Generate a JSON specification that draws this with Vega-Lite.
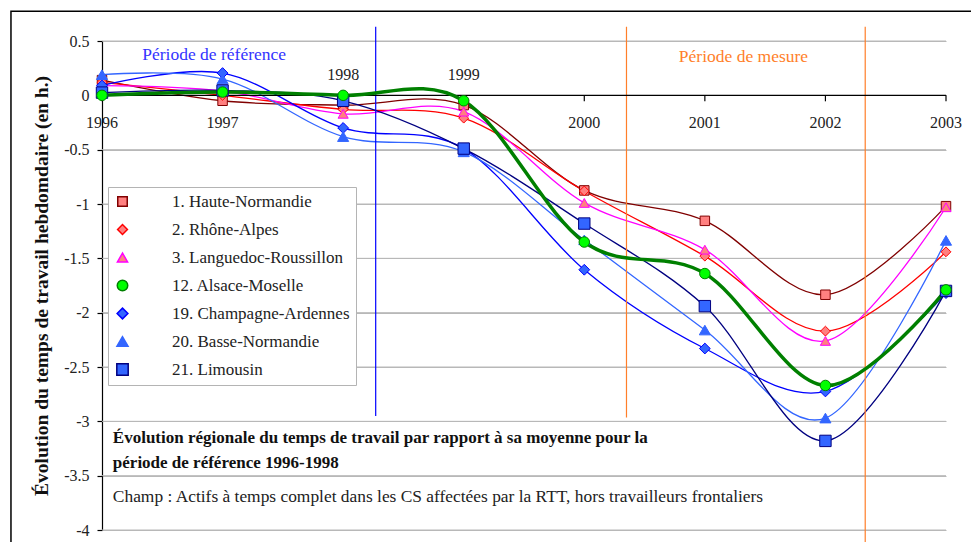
{
  "$schema": "https://vega.github.io/schema/vega-lite/v6.json",
  "width": 844,
  "height": 489,
  "autosize": "none",
  "padding": {"left": 102, "top": 41, "right": 25, "bottom": 12},
  "background": "white",
  "data": {"values": [{"one": 1}]},
  "config": {
    "view": {"stroke": null},
    "font": "Liberation Serif",
    "text": {"font": "Liberation Serif", "color": "#222222"},
    "axisY": {
      "domainColor": "black", "domainWidth": 1.2, "tickColor": "black", "tickSize": 5, "tickWidth": 1.2,
      "labelFont": "Liberation Serif", "labelFontSize": 16, "labelColor": "#222222", "labelPadding": 8,
      "grid": true, "gridColor": "#b8b8b8", "gridWidth": 1,
      "titleFont": "Liberation Serif", "titleFontSize": 19.5, "titleFontWeight": "bold", "titleColor": "#111111", "titlePadding": 12
    }
  },
  "datasets": {
    "series": [
      {"region": "1. Haute-Normandie", "year": 1996, "value": 0.14},
      {"region": "1. Haute-Normandie", "year": 1997, "value": -0.05},
      {"region": "1. Haute-Normandie", "year": 1998, "value": -0.09},
      {"region": "1. Haute-Normandie", "year": 1999, "value": -0.09},
      {"region": "1. Haute-Normandie", "year": 2000, "value": -0.875},
      {"region": "1. Haute-Normandie", "year": 2001, "value": -1.155},
      {"region": "1. Haute-Normandie", "year": 2002, "value": -1.835},
      {"region": "1. Haute-Normandie", "year": 2003, "value": -1.02},
      {"region": "2. Rhône-Alpes", "year": 1996, "value": 0.12},
      {"region": "2. Rhône-Alpes", "year": 1997, "value": 0.0},
      {"region": "2. Rhône-Alpes", "year": 1998, "value": -0.13},
      {"region": "2. Rhône-Alpes", "year": 1999, "value": -0.21},
      {"region": "2. Rhône-Alpes", "year": 2000, "value": -0.88},
      {"region": "2. Rhône-Alpes", "year": 2001, "value": -1.48},
      {"region": "2. Rhône-Alpes", "year": 2002, "value": -2.17},
      {"region": "2. Rhône-Alpes", "year": 2003, "value": -1.44},
      {"region": "3. Languedoc-Roussillon", "year": 1996, "value": 0.09},
      {"region": "3. Languedoc-Roussillon", "year": 1997, "value": 0.04},
      {"region": "3. Languedoc-Roussillon", "year": 1998, "value": -0.17},
      {"region": "3. Languedoc-Roussillon", "year": 1999, "value": -0.15},
      {"region": "3. Languedoc-Roussillon", "year": 2000, "value": -0.99},
      {"region": "3. Languedoc-Roussillon", "year": 2001, "value": -1.42},
      {"region": "3. Languedoc-Roussillon", "year": 2002, "value": -2.26},
      {"region": "3. Languedoc-Roussillon", "year": 2003, "value": -1.03},
      {"region": "19. Champagne-Ardennes", "year": 1996, "value": 0.09},
      {"region": "19. Champagne-Ardennes", "year": 1997, "value": 0.205},
      {"region": "19. Champagne-Ardennes", "year": 1998, "value": -0.3},
      {"region": "19. Champagne-Ardennes", "year": 1999, "value": -0.49},
      {"region": "19. Champagne-Ardennes", "year": 2000, "value": -1.605},
      {"region": "19. Champagne-Ardennes", "year": 2001, "value": -2.33},
      {"region": "19. Champagne-Ardennes", "year": 2002, "value": -2.725},
      {"region": "19. Champagne-Ardennes", "year": 2003, "value": -1.82},
      {"region": "20. Basse-Normandie", "year": 1996, "value": 0.19},
      {"region": "20. Basse-Normandie", "year": 1997, "value": 0.15},
      {"region": "20. Basse-Normandie", "year": 1998, "value": -0.38},
      {"region": "20. Basse-Normandie", "year": 1999, "value": -0.52},
      {"region": "20. Basse-Normandie", "year": 2000, "value": -1.33},
      {"region": "20. Basse-Normandie", "year": 2001, "value": -2.16},
      {"region": "20. Basse-Normandie", "year": 2002, "value": -2.97},
      {"region": "20. Basse-Normandie", "year": 2003, "value": -1.335},
      {"region": "21. Limousin", "year": 1996, "value": 0.025},
      {"region": "21. Limousin", "year": 1997, "value": 0.045},
      {"region": "21. Limousin", "year": 1998, "value": -0.05},
      {"region": "21. Limousin", "year": 1999, "value": -0.49},
      {"region": "21. Limousin", "year": 2000, "value": -1.18},
      {"region": "21. Limousin", "year": 2001, "value": -1.94},
      {"region": "21. Limousin", "year": 2002, "value": -3.18},
      {"region": "21. Limousin", "year": 2003, "value": -1.8},
      {"region": "12. Alsace-Moselle", "year": 1996, "value": 0.0},
      {"region": "12. Alsace-Moselle", "year": 1997, "value": 0.03},
      {"region": "12. Alsace-Moselle", "year": 1998, "value": 0.0},
      {"region": "12. Alsace-Moselle", "year": 1999, "value": -0.05},
      {"region": "12. Alsace-Moselle", "year": 2000, "value": -1.35},
      {"region": "12. Alsace-Moselle", "year": 2001, "value": -1.64},
      {"region": "12. Alsace-Moselle", "year": 2002, "value": -2.67},
      {"region": "12. Alsace-Moselle", "year": 2003, "value": -1.79}
    ],
    "years": [
      {"year": 1996, "pos": "below"}, {"year": 1997, "pos": "below"}, {"year": 1998, "pos": "above"},
      {"year": 1999, "pos": "above"}, {"year": 2000, "pos": "below"}, {"year": 2001, "pos": "below"},
      {"year": 2002, "pos": "below"}, {"year": 2003, "pos": "below"}
    ]
  },
  "layer": [
    {
      "data": {"values": [{"g": 0.5}, {"g": -0.5}, {"g": -1}, {"g": -1.5}, {"g": -2}, {"g": -2.5}, {"g": -3}, {"g": -3.5}, {"g": -4}]},
      "mark": {"type": "rule", "color": "#b8b8b8", "strokeWidth": 1},
      "encoding": {"y": {"field": "g", "type": "quantitative"}}
    },
    {
      "mark": {"type": "rect", "filled": false, "fill": null, "stroke": "black", "strokeWidth": 1.5},
      "encoding": {
        "x": {"datum": 1995.245, "type": "quantitative", "axis": null},
        "x2": {"datum": 2003.4},
        "y": {"datum": 0.773, "type": "quantitative"},
        "y2": {"datum": -4.3}
      }
    },
    {
      "data": {"name": "series"},
      "transform": [{"filter": "datum.region !== '12. Alsace-Moselle'"}],
      "mark": {"type": "line", "interpolate": "cardinal", "tension": 0, "strokeWidth": 1.3},
      "encoding": {
        "x": {"field": "year", "type": "quantitative", "axis": null, "scale": {"domain": [1996, 2003], "nice": false, "zero": false}},
        "y": {"field": "value", "type": "quantitative", "scale": {"domain": [-4, 0.5], "nice": false},
              "axis": {"title": "Évolution du temps de travail hebdomdaire (en h.)", "grid": true, "values": [-4, -3.5, -3, -2.5, -2, -1.5, -1, -0.5, 0, 0.5], "labelExpr": "datum.value + ''"}},
        "stroke": {"field": "region", "type": "nominal",
          "scale": {"domain": ["1. Haute-Normandie", "2. Rhône-Alpes", "3. Languedoc-Roussillon", "12. Alsace-Moselle", "19. Champagne-Ardennes", "20. Basse-Normandie", "21. Limousin"],
                    "range": ["#800000", "#FF0000", "#FF00FF", "#008000", "#0000FF", "#3366FF", "#000080"]}},
        "detail": {"field": "region"}
      }
    },
    {
      "mark": {"type": "rule", "color": "#0000FF", "strokeWidth": 1.2},
      "encoding": {"x": {"datum": 1998.27, "type": "quantitative", "axis": null}, "y": {"datum": 0.63, "type": "quantitative"}, "y2": {"datum": -2.95}}
    },
    {
      "mark": {"type": "rule", "color": "#FF7F2A", "strokeWidth": 1.2},
      "encoding": {"x": {"datum": 2000.35, "type": "quantitative", "axis": null}, "y": {"datum": 0.63, "type": "quantitative"}, "y2": {"datum": -2.965}}
    },
    {
      "mark": {"type": "rule", "color": "#FF7F2A", "strokeWidth": 1.2},
      "encoding": {"x": {"datum": 2002.33, "type": "quantitative", "axis": null}, "y": {"datum": 0.63, "type": "quantitative"}, "y2": {"datum": -4.2}}
    },
    {
      "mark": {"type": "text", "align": "center", "baseline": "middle", "fontSize": 17.5, "color": "#3333FF"},
      "encoding": {"x": {"datum": 1996.93, "type": "quantitative", "axis": null}, "y": {"datum": 0.37, "type": "quantitative"}, "text": {"value": "Période de référence"}}
    },
    {
      "mark": {"type": "text", "align": "center", "baseline": "middle", "fontSize": 17.5, "color": "#FF7F2A"},
      "encoding": {"x": {"datum": 2001.32, "type": "quantitative", "axis": null}, "y": {"datum": 0.355, "type": "quantitative"}, "text": {"value": "Période de mesure"}}
    },
    {
      "mark": {"type": "rule", "color": "black", "strokeWidth": 1.2},
      "encoding": {"x": {"datum": 1996, "type": "quantitative", "axis": null}, "x2": {"datum": 2003}, "y": {"datum": 0, "type": "quantitative"}}
    },
    {
      "data": {"name": "years"},
      "mark": {"type": "rule", "color": "black", "strokeWidth": 1.2},
      "encoding": {"x": {"field": "year", "type": "quantitative", "axis": null}, "y": {"datum": 0, "type": "quantitative"}, "y2": {"datum": -0.055}}
    },
    {
      "data": {"name": "years"},
      "transform": [{"filter": "datum.pos === 'below'"}],
      "mark": {"type": "text", "align": "center", "baseline": "middle", "fontSize": 16, "dy": 28},
      "encoding": {"x": {"field": "year", "type": "quantitative", "axis": null}, "y": {"datum": 0, "type": "quantitative"}, "text": {"field": "year", "type": "nominal"}}
    },
    {
      "data": {"name": "years"},
      "transform": [{"filter": "datum.pos === 'above'"}],
      "mark": {"type": "text", "align": "center", "baseline": "middle", "fontSize": 16, "dy": -20},
      "encoding": {"x": {"field": "year", "type": "quantitative", "axis": null}, "y": {"datum": 0, "type": "quantitative"}, "text": {"field": "year", "type": "nominal"}}
    },
    {
      "data": {"name": "series"},
      "transform": [{"filter": "datum.region === '12. Alsace-Moselle'"}],
      "mark": {"type": "line", "interpolate": "cardinal", "tension": 0, "strokeWidth": 3.5},
      "encoding": {
        "x": {"field": "year", "type": "quantitative", "axis": null},
        "y": {"field": "value", "type": "quantitative"},
        "stroke": {"field": "region", "type": "nominal"}
      }
    },
    {
      "data": {"name": "series"},
      "mark": {"type": "point", "filled": true, "strokeWidth": 1, "opacity": 1},
      "encoding": {
        "x": {"field": "year", "type": "quantitative", "axis": null},
        "y": {"field": "value", "type": "quantitative"},
        "stroke": {"field": "region", "type": "nominal"},
        "fill": {"field": "region", "type": "nominal",
          "scale": {"domain": ["1. Haute-Normandie", "2. Rhône-Alpes", "3. Languedoc-Roussillon", "12. Alsace-Moselle", "19. Champagne-Ardennes", "20. Basse-Normandie", "21. Limousin"],
                    "range": ["#FF8080", "#FF8080", "#FF8080", "#00FF00", "#3366FF", "#3366FF", "#3366FF"]}},
        "size": {"field": "region", "type": "nominal",
          "scale": {"domain": ["1. Haute-Normandie", "2. Rhône-Alpes", "3. Languedoc-Roussillon", "12. Alsace-Moselle", "19. Champagne-Ardennes", "20. Basse-Normandie", "21. Limousin"],
                    "range": [90, 130, 140, 170, 130, 150, 90]}},
        "shape": {"field": "region", "type": "nominal",
          "scale": {"domain": ["1. Haute-Normandie", "2. Rhône-Alpes", "3. Languedoc-Roussillon", "12. Alsace-Moselle", "19. Champagne-Ardennes", "20. Basse-Normandie", "21. Limousin"],
                    "range": ["square", "diamond", "triangle-up", "circle", "diamond", "triangle-up", "square"]},
          "legend": {
            "title": null, "orient": "none", "legendX": 6, "legendY": 146,
            "padding": 6, "labelOffset": 41, "rowPadding": 10,
            "labelFont": "Liberation Serif", "labelFontSize": 17, "labelColor": "#222222", "labelLimit": 400,
            "fillColor": "white", "strokeColor": "#b4b4b4"
          }
        }
      }
    },
    {
      "mark": {"type": "text", "align": "left", "baseline": "middle", "fontSize": 17, "fontWeight": "bold", "color": "#111111"},
      "encoding": {"x": {"datum": 1996.09, "type": "quantitative", "axis": null}, "y": {"datum": -3.155, "type": "quantitative"}, "text": {"value": "Évolution régionale du temps de travail par rapport à sa moyenne pour la"}}
    },
    {
      "mark": {"type": "text", "align": "left", "baseline": "middle", "fontSize": 17, "fontWeight": "bold", "color": "#111111"},
      "encoding": {"x": {"datum": 1996.09, "type": "quantitative", "axis": null}, "y": {"datum": -3.38, "type": "quantitative"}, "text": {"value": "période de référence 1996-1998"}}
    },
    {
      "mark": {"type": "text", "align": "left", "baseline": "middle", "fontSize": 17.4, "color": "#222222"},
      "encoding": {"x": {"datum": 1996.09, "type": "quantitative", "axis": null}, "y": {"datum": -3.7, "type": "quantitative"}, "text": {"value": "Champ : Actifs à temps complet dans les CS affectées par la RTT, hors travailleurs frontaliers"}}
    }
  ]
}
